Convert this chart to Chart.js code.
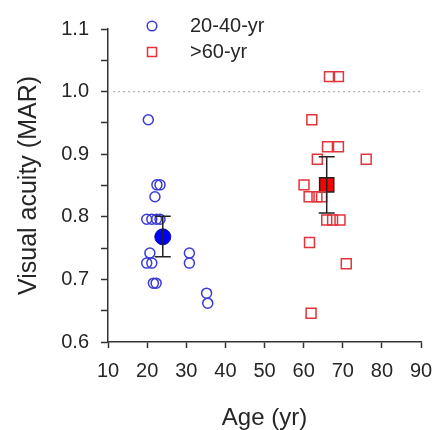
<!DOCTYPE html>
<html>
<head>
<meta charset="utf-8">
<script src="https://cdn.jsdelivr.net/npm/chart.js@4"></script>
<style>
  html, body { margin: 0; padding: 0; background: #fff; }
  #wrap { width: 436px; height: 430px; }
</style>
</head>
<body>
<div id="wrap"><canvas id="myChart"></canvas></div>
<script>
(function () {
  'use strict'

// individual subjects, age (yr) and visual acuity (MAR)
var youngAge = [20.3, 22.5, 23.3, 22.0, 19.9, 21.2, 22.4, 23.3, 20.7, 19.9, 21.2, 30.8, 30.8, 21.6, 22.3, 35.2, 35.5]
var youngMar = [0.955, 0.851, 0.851, 0.832, 0.796, 0.796, 0.796, 0.796, 0.742, 0.726, 0.726, 0.742, 0.726, 0.694, 0.694, 0.678, 0.662]

var oldAge = [66.6, 68.9, 62.1, 66.1, 68.9, 63.5, 76.0, 60.1, 61.4, 63.4, 64.6, 65.9, 67.4, 69.3, 61.5, 70.9, 61.9]
var oldMar = [1.024, 1.024, 0.955, 0.912, 0.912, 0.892, 0.892, 0.851, 0.832, 0.832, 0.832, 0.795, 0.795, 0.795, 0.759, 0.725, 0.646]

// group means with error bars
var meanAge = [24.0, 65.9]
var meanMar = [0.768, 0.851]
var errLow = [0.736, 0.806]
var errHigh = [0.801, 0.896]

var groupLabels = ['20-40-yr', '>60-yr']
var refLine = 1.0

var xTicks = [10, 20, 30, 40, 50, 60, 70, 80, 90]
var yTickLabels = ['0.6', '0.7', '0.8', '0.9', '1.0', '1.1']

function pts(xs, ys) {
  return xs.map(function (x, i) { return { x: x, y: ys[i] } })
}

var BLUE = '#3a3ad6'
var RED = '#e2343a'
var TXT = '#262626'
var FONT = 'Liberation Sans, Arial, sans-serif'

// error bars from the mean datasets
var errorBars = {
  id: 'errorBars',
  afterDatasetsDraw: function (chart) {
    var ctx = chart.ctx
    var xs = chart.scales.x, ys = chart.scales.y
    ctx.save()
    ctx.strokeStyle = '#222'
    ctx.lineWidth = 1.5
    meanAge.forEach(function (a, i) {
      var px = xs.getPixelForValue(a)
      var lo = ys.getPixelForValue(errLow[i])
      var hi = ys.getPixelForValue(errHigh[i])
      ctx.beginPath()
      ctx.moveTo(px, lo); ctx.lineTo(px, hi)
      ctx.moveTo(px - 8, lo); ctx.lineTo(px + 8, lo)
      ctx.moveTo(px - 8, hi); ctx.lineTo(px + 8, hi)
      ctx.stroke()
    })
    ctx.restore()
  }
}

// legend inside the plot, top left
var insideLegend = {
  id: 'insideLegend',
  afterDraw: function (chart) {
    var ctx = chart.ctx
    ctx.save()
    ctx.font = '20px ' + FONT
    ctx.fillStyle = TXT
    ctx.textBaseline = 'middle'
    var ys = [26, 52]
    ctx.lineWidth = 1.5
    ctx.strokeStyle = BLUE
    ctx.beginPath(); ctx.arc(152, ys[0], 4.8, 0, Math.PI * 2); ctx.stroke()
    ctx.strokeStyle = RED
    ctx.strokeRect(147.5, ys[1] - 4.5, 9, 9)
    ctx.fillText(groupLabels[0], 190, ys[0])
    ctx.fillText(groupLabels[1], 190, ys[1])
    ctx.restore()
  }
}

const ctx = document.getElementById('myChart').getContext('2d');

new Chart(ctx, {
  type: 'scatter',
  data: {
    datasets: [
      {
        label: 'ref',
        type: 'line',
        data: [{ x: 11.3, y: refLine }, { x: 90, y: refLine }],
        borderColor: '#b0b0b0',
        borderWidth: 1.2,
        borderDash: [2, 3],
        pointRadius: 0
      },
      {
        label: groupLabels[0],
        data: pts(youngAge, youngMar),
        pointStyle: 'circle',
        pointRadius: 5,
        borderColor: BLUE,
        borderWidth: 1.5,
        backgroundColor: 'rgba(0,0,0,0)'
      },
      {
        label: groupLabels[1],
        data: pts(oldAge, oldMar),
        pointStyle: 'rect',
        pointRadius: 7,
        borderColor: RED,
        borderWidth: 1.5,
        backgroundColor: 'rgba(0,0,0,0)'
      },
      {
        label: 'mean young',
        data: [{ x: meanAge[0], y: meanMar[0] }],
        pointStyle: 'circle',
        pointRadius: 8,
        borderColor: '#1010a0',
        borderWidth: 1,
        backgroundColor: '#0000ff'
      },
      {
        label: 'mean old',
        data: [{ x: meanAge[1], y: meanMar[1] }],
        pointStyle: 'rect',
        pointRadius: 10,
        borderColor: '#222',
        borderWidth: 1.5,
        backgroundColor: '#ff0000'
      }
    ]
  },
  options: {
    responsive: true,
    maintainAspectRatio: false,
    animation: false,
    layout: { padding: { left: 0, right: 15, top: 29, bottom: 0 } },
    plugins: {
      legend: { display: false },
      tooltip: { enabled: false }
    },
    scales: {
      x: {
        type: 'linear',
        min: 10,
        max: 90,
        afterBuildTicks: function (s) { s.ticks = xTicks.map(function (v) { return { value: v } }) },
        afterFit: function (s) { s.height = 88; s.paddingLeft = 0; s.paddingRight = 0 },
        border: { color: '#333', width: 1.5 },
        grid: { drawOnChartArea: false, tickLength: 6, color: '#333', tickWidth: 1.5 },
        ticks: { color: TXT, font: { family: FONT, size: 20 }, padding: 11, maxRotation: 0 },
        title: { display: true, text: 'Age (yr)', color: TXT, font: { family: FONT, size: 24, lineHeight: 1 }, padding: 0 }
      },
      y: {
        min: 0.6,
        max: 1.1,
        afterBuildTicks: function (s) {
          var t = []
          for (var i = 0; i <= 10; i++) t.push({ value: 0.6 + i * 0.05 })
          s.ticks = t
        },
        afterFit: function (s) { s.width = 108; s.paddingTop = 0; s.paddingBottom = 0 },
        border: { color: '#333', width: 1.5 },
        grid: { drawOnChartArea: false, tickLength: 7, color: '#333', tickWidth: 1.5 },
        ticks: {
          color: TXT,
          font: { family: FONT, size: 20 },
          padding: 12,
          autoSkip: false,
          callback: function (v, i) { return i % 2 === 0 ? yTickLabels[i / 2] : '' }
        },
        title: { display: true, text: 'Visual acuity (MAR)', color: TXT, font: { family: FONT, size: 25 }, padding: 14 }
      }
    }
  },
  plugins: [errorBars, insideLegend]
});

})()
</script>
</body>
</html>
